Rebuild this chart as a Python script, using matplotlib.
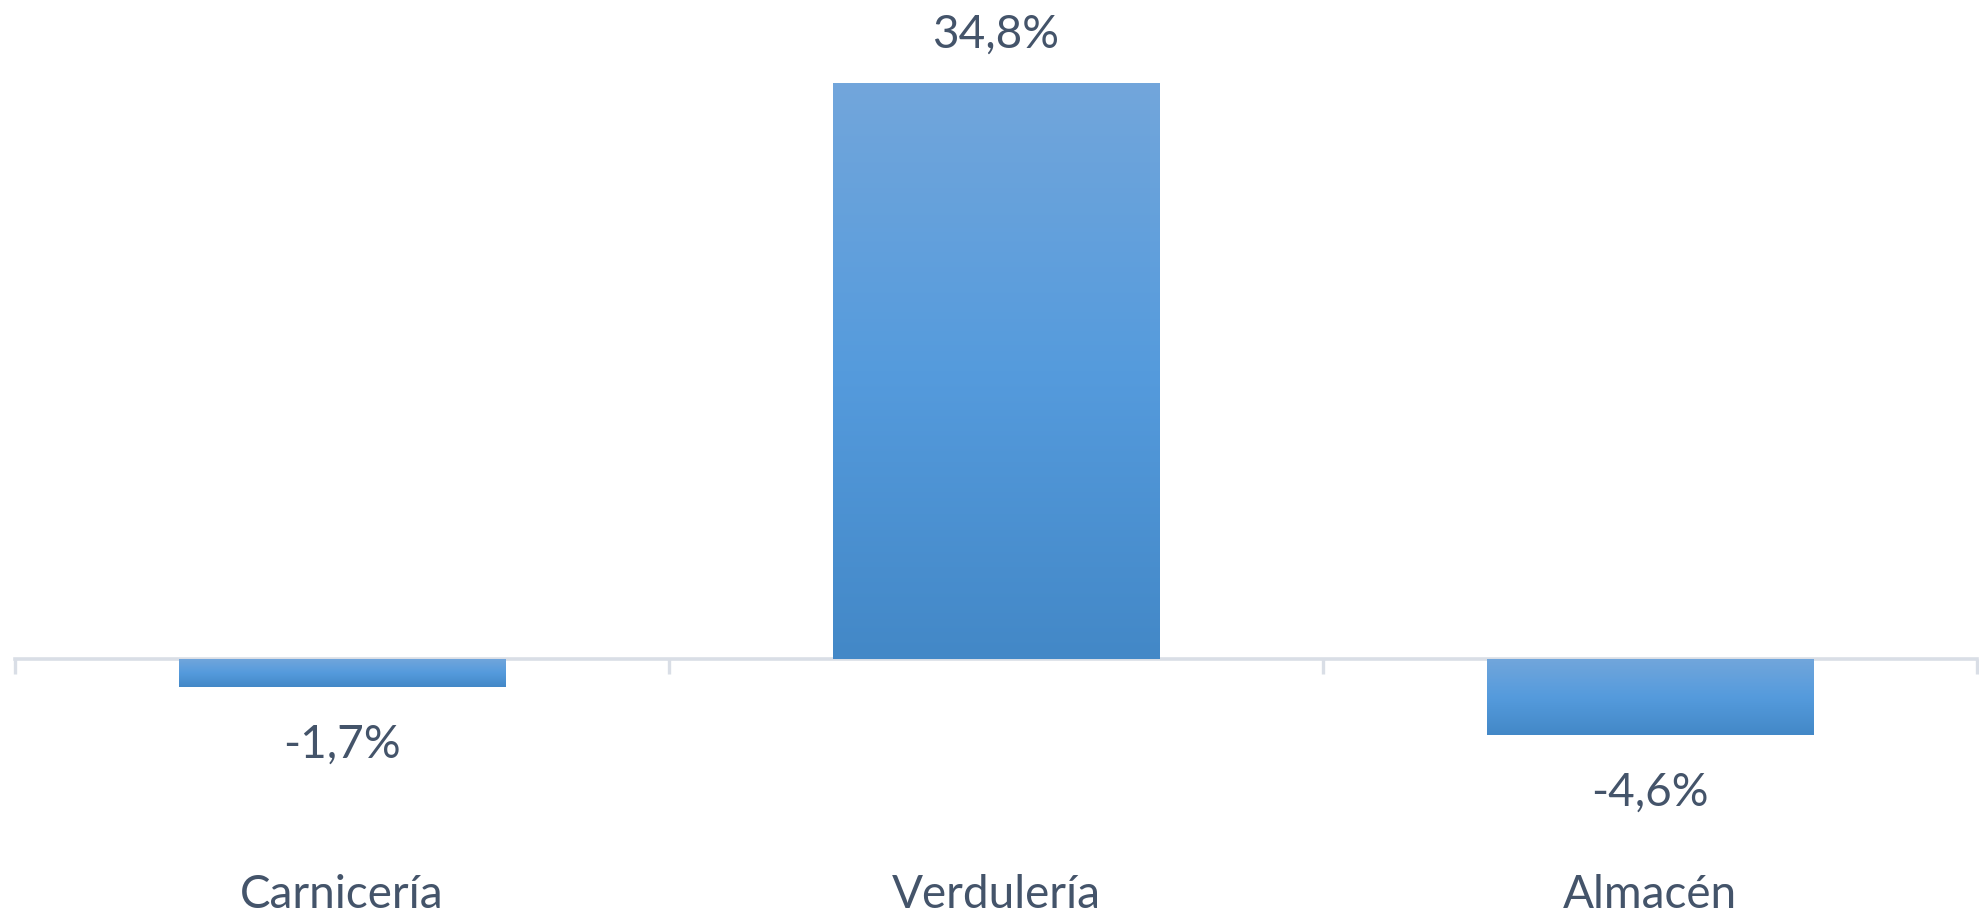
import numpy as np
import matplotlib
matplotlib.use("Agg")
from matplotlib import pyplot as plt
from matplotlib.colors import LinearSegmentedColormap

categories = ["Carnicería", "Verdulería", "Almacén"]
values = [-1.7, 34.8, -4.6]
labels = ["-1,7%", "34,8%", "-4,6%"]

text_color = "#44546A"
axis_color = "#D9DEE6"
grad = LinearSegmentedColormap.from_list("bar", ["#72A6DB", "#559BDD", "#4388C7"])

W, H = 1979, 916
fig = plt.figure(figsize=(W / 100, H / 100), dpi=100)
ax = fig.add_axes([15 / W, 0, (1977 - 15) / W, 1])

ppu = 16.55  # pixels per data unit
zero_px = 659
ax.set_xlim(-0.5, 2.5)
ax.set_ylim(-(H - zero_px) / ppu, zero_px / ppu)

x = np.arange(len(categories))
bars = ax.bar(x, values, width=0.5, color="none", edgecolor="none")

g = np.linspace(0, 1, 256).reshape(-1, 1)
for b in bars:
    x0, y0 = b.get_x(), b.get_y()
    w, h = b.get_width(), b.get_height()
    top, bot = max(y0, y0 + h), min(y0, y0 + h)
    im = ax.imshow(g, cmap=grad, aspect="auto", extent=[x0, x0 + w, bot, top],
                   origin="upper", zorder=2, interpolation="bilinear")
    im.set_clip_path(b)

for xi, v, lab in zip(x, values, labels):
    yy = v + 2.9 if v > 0 else v - 3.5
    ax.text(xi, yy, lab, ha="center", va="center", fontsize=33,
            color=text_color, family="Lato")
    ax.text(xi, -(895 - zero_px) / ppu, categories[xi], ha="center", va="center",
            fontsize=33, color=text_color, family="Lato")

for s in ["top", "right", "left"]:
    ax.spines[s].set_visible(False)
ax.spines["bottom"].set_position(("data", 0))
ax.spines["bottom"].set_color(axis_color)
ax.spines["bottom"].set_linewidth(2.6)
ax.spines["bottom"].set_zorder(1)
ax.set_xticks([-0.5, 0.5, 1.5, 2.5])
ax.set_xticklabels([])
ax.tick_params(axis="x", direction="out", length=11, width=2.4, color=axis_color)
ax.set_yticks([])
ax.set_xlim(-0.5, 2.5)

fig.savefig("out.png", dpi=100)
